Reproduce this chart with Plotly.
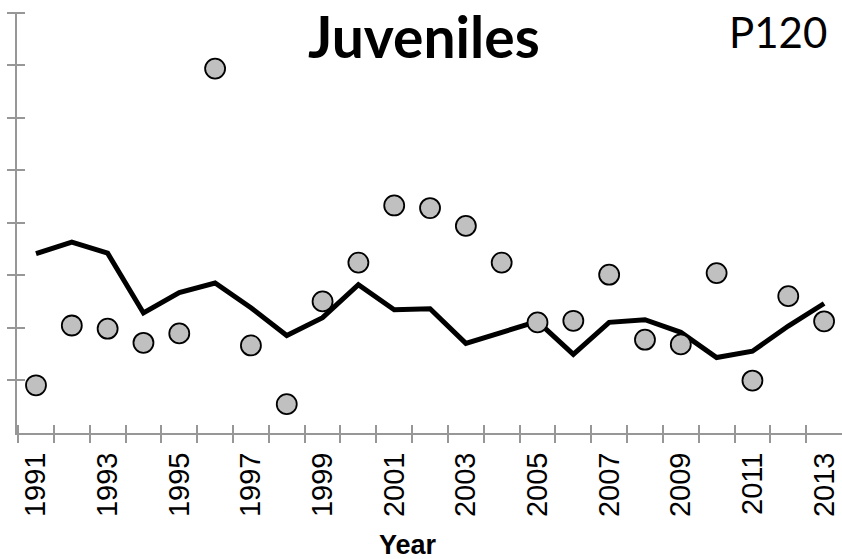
import plotly.graph_objects as go

# Survey years
years = list(range(1991, 2014))

# Annual juvenile index (points)
annual_index = [0.90, 2.04, 1.98, 1.71, 1.89, 6.94, 1.66, 0.54, 2.50, 3.24,
                4.33, 4.28, 3.94, 3.24, 2.10, 2.13, 3.01, 1.77, 1.68, 3.04,
                0.99, 2.60, 2.12]

# Smoothed trend (line)
trend = [3.41, 3.63, 3.42, 2.28, 2.67, 2.85, 2.38, 1.85, 2.19, 2.82,
         2.34, 2.36, 1.70, 1.90, 2.12, 1.49, 2.10, 2.15, 1.91, 1.43,
         1.55, 2.03, 2.46]

# Axis ticks: marks sit between years, every other year is labelled
label_years = list(range(1991, 2014, 2))
tick_marks = [y - 0.5 for y in years]
tick_text = [str(y) if y in label_years else " " for y in years]
y_ticks = list(range(0, 9))

AXIS_GREY = "#979797"
# ranges padded a hair so the end ticks are still drawn
x_range = [1990.47, 2013.5]
y_range = [-0.01, 8.02]

W, H = 842, 559
M_L, M_R, M_T, M_B = 17, 0, 12, 126

fig = go.Figure()

fig.add_trace(go.Scatter(
    x=years, y=trend, mode="lines",
    line=dict(color="black", width=5),
    showlegend=False, hoverinfo="skip",
))

fig.add_trace(go.Scatter(
    x=years, y=annual_index, mode="markers",
    marker=dict(size=20, color="#c0c0c0", line=dict(color="black", width=1.8)),
    showlegend=False,
))

# crossing tick marks: major ticks inside, minor ticks outside at the same values
fig.update_layout(
    width=W, height=H,
    margin=dict(l=M_L, r=M_R, t=M_T, b=M_B),
    plot_bgcolor="white", paper_bgcolor="white",
    xaxis=dict(
        range=x_range, tickmode="array", tickvals=tick_marks, ticktext=tick_text,
        tickangle=-90, ticklabelshift=18, ticklabelstandoff=6,
        ticks="inside", ticklen=8, tickwidth=2, tickcolor=AXIS_GREY,
        minor=dict(tickmode="array", tickvals=tick_marks, ticks="outside",
                   ticklen=8, tickwidth=2, tickcolor=AXIS_GREY, showgrid=False),
        tickfont=dict(family="Liberation Sans, Arial", size=29, color="black"),
        showline=True, linecolor=AXIS_GREY, linewidth=2,
        showgrid=False, zeroline=False,
    ),
    yaxis=dict(
        range=y_range, tickmode="array", tickvals=y_ticks,
        ticks="inside", ticklen=8, tickwidth=2, tickcolor=AXIS_GREY,
        minor=dict(tickmode="array", tickvals=y_ticks, ticks="outside",
                   ticklen=8, tickwidth=2, tickcolor=AXIS_GREY, showgrid=False),
        showticklabels=False, showline=True, linecolor=AXIS_GREY, linewidth=2,
        showgrid=False, zeroline=False,
    ),
    annotations=[
        dict(text="<b>Juveniles</b>", xref="paper", yref="paper",
             x=0.493, y=1.027, xanchor="center", yanchor="top", showarrow=False,
             borderpad=0,
             font=dict(family="Lato", size=57, color="black")),
        dict(text="P120", xref="paper", yref="paper",
             x=0.923, y=0.952, xanchor="center", yanchor="middle", showarrow=False,
             font=dict(family="Lato", size=42, color="black")),
        dict(text="<b>Year</b>", xref="paper", yref="paper",
             x=0.474, y=-0.266, xanchor="center", yanchor="middle", showarrow=False,
             font=dict(family="Liberation Sans, Arial", size=27, color="black")),
    ],
)

fig.write_html("out.html")
